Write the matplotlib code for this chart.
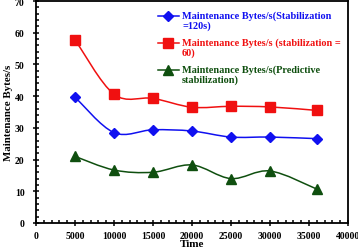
import matplotlib
matplotlib.use('Agg')
import matplotlib.pyplot as plt
from matplotlib.path import Path
from matplotlib.patches import PathPatch
from matplotlib.ticker import MultipleLocator

# data
time = [5000, 10000, 15000, 20000, 25000, 30000, 36000]
stab_120 = [39.7, 28.5, 29.4, 29.0, 27.1, 27.1, 26.6]
stab_60 = [57.8, 40.6, 39.3, 36.5, 36.8, 36.6, 35.5]
predictive = [21.0, 16.7, 16.0, 18.3, 14.0, 16.4, 10.7]

labels = ['Maintenance Bytes/s(Stabilization\n=120s)',
          'Maintenance Bytes/s (stabilization =\n60)',
          'Maintenance Bytes/s(Predictive\nstabilization)']
colors = ['#1010f0', '#f01010', '#0f4f0f']
markers = ['D', 's', '^']
msizes = [5, 6.5, 6.5]

plt.rcParams['font.family'] = 'Liberation Serif'
plt.rcParams['font.weight'] = 'bold'


def smooth_path(xs, ys):
    # Excel-style smoothed line (Catmull-Rom as cubic Bezier)
    pts = list(zip(xs, ys))
    n = len(pts)
    verts = [pts[0]]
    codes = [Path.MOVETO]
    for i in range(n - 1):
        p0 = pts[i - 1] if i > 0 else pts[i]
        p1 = pts[i]
        p2 = pts[i + 1]
        p3 = pts[i + 2] if i + 2 < n else pts[i + 1]
        c1 = (p1[0] + (p2[0] - p0[0]) / 6, p1[1] + (p2[1] - p0[1]) / 6)
        c2 = (p2[0] - (p3[0] - p1[0]) / 6, p2[1] - (p3[1] - p1[1]) / 6)
        verts += [c1, c2, p2]
        codes += [Path.CURVE4] * 3
    return Path(verts, codes)


fig = plt.figure(figsize=(3.58, 2.51), dpi=100)
ax = fig.add_axes([0.1006, 0.1076, 0.8714, 0.8844])

for ys, c, m, ms in zip([stab_120, stab_60, predictive], colors, markers, msizes):
    ax.add_patch(PathPatch(smooth_path(time, ys), fill=False, edgecolor=c, lw=1.1))
    ax.plot(time, ys, linestyle='none', marker=m, color=c, markersize=ms)

# legend drawn by hand: marker sits on the first line of each two-line label
leg_y = [0.932, 0.811, 0.689]
for y, c, m, ms, lab in zip(leg_y, colors, markers, msizes, labels):
    ax.plot([0.391, 0.458], [y, y], color=c, lw=1.1, transform=ax.transAxes)
    ax.plot([0.4245], [y], marker=m, color=c, markersize=ms, transform=ax.transAxes)
    ax.text(0.468, y + 0.027, lab, color=c, fontsize=7.4, fontweight='bold',
            va='top', ha='left', linespacing=1.15, transform=ax.transAxes)

ax.set_xlim(0, 40000)
ax.set_ylim(0, 70)
ax.xaxis.set_major_locator(MultipleLocator(5000))
ax.xaxis.set_minor_locator(MultipleLocator(1000))
ax.yaxis.set_major_locator(MultipleLocator(10))
ax.yaxis.set_minor_locator(MultipleLocator(2))
ax.tick_params(which='both', labelsize=7, width=1.1)
ax.tick_params(which='major', direction='inout', length=4.5)
ax.tick_params(which='minor', direction='in', length=2)
ax.tick_params(axis='x', pad=3.5)
ax.tick_params(axis='y', pad=6)
for s in ax.spines.values():
    s.set_linewidth(1.3)

ax.set_xlabel('Time', fontsize=8, fontweight='bold', labelpad=-1)
ax.set_ylabel('Maintenance Bytes/s', fontsize=7.8, fontweight='bold', labelpad=1)

fig.savefig('out.png', dpi=100)
